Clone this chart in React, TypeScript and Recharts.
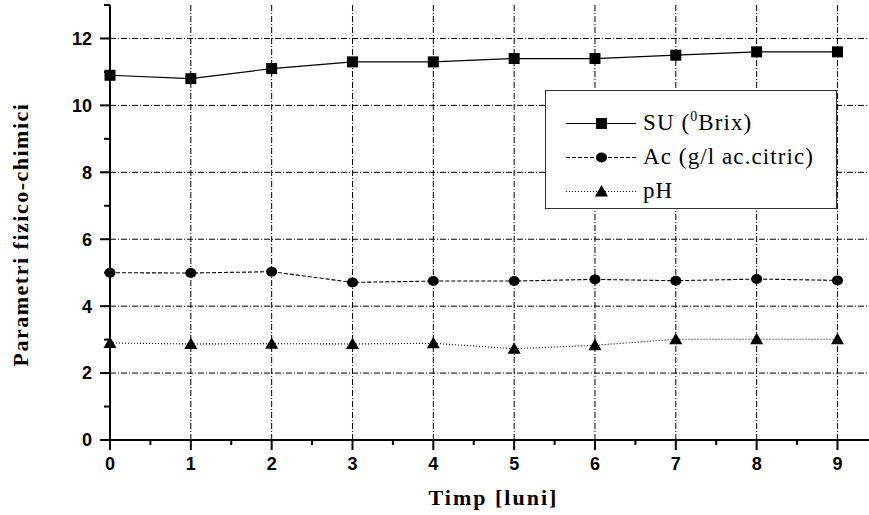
import React from 'react';
import { LineChart, Line, XAxis, YAxis, CartesianGrid, Legend, Label } from 'recharts';

const months = [0, 1, 2, 3, 4, 5, 6, 7, 8, 9];
const suValues = [10.9, 10.8, 11.1, 11.3, 11.3, 11.4, 11.4, 11.5, 11.6, 11.6];
const acValues = [5.0, 4.99, 5.03, 4.71, 4.75, 4.75, 4.8, 4.76, 4.81, 4.77];
const phValues = [2.9, 2.87, 2.88, 2.87, 2.89, 2.73, 2.83, 3.01, 3.01, 3.01];

const xTicks = [0, 0.5, 1, 1.5, 2, 2.5, 3, 3.5, 4, 4.5, 5, 5.5, 6, 6.5, 7, 7.5, 8, 8.5, 9];
const yTicks = [0, 1, 2, 3, 4, 5, 6, 7, 8, 9, 10, 11, 12, 13];
const gridX = [1, 2, 3, 4, 5, 6, 7, 8, 9];
const gridY = [2, 4, 6, 8, 10, 12];

const seriesNames = ['SU (', 'Ac (g/l ac.citric)', 'pH'];

const data = months.map((m, i) => ({ month: m, su: suValues[i], ac: acValues[i], ph: phValues[i] }));

const TICK_FONT = '"Liberation Sans", Arial, sans-serif';
const SERIF = '"Liberation Serif", "Times New Roman", serif';
const TICK_LEN = 10;
const OFFSET_X = 17;
const OFFSET_Y = 18;

const Square = (cx: number, cy: number, key?: any) => (
  <rect key={key} x={cx - 5.5} y={cy - 5.5} width={11} height={11} fill="#000" />
);
const Circle = (cx: number, cy: number, key?: any) => (
  <ellipse key={key} cx={cx} cy={cy} rx={5.5} ry={5} fill="#000" />
);
const Triangle = (cx: number, cy: number, key?: any) => (
  <path key={key} d={`M${cx},${cy - 6.5} L${cx + 6.5},${cy + 5} L${cx - 6.5},${cy + 5} Z`} fill="#000" />
);

const XTick = (props: any) => {
  const { x, y, payload } = props;
  const v = payload.value;
  const major = Number.isInteger(v);
  const axisY = y - OFFSET_X;
  return (
    <g>
      <line x1={x} x2={x} y1={axisY} y2={axisY + (major ? TICK_LEN : 5)} stroke="#000" strokeWidth={2} />
      {major && (
        <text x={x} y={y} dy="0.71em" textAnchor="middle" fontFamily={TICK_FONT} fontWeight="bold" fontSize={18} fill="#000">
          {v}
        </text>
      )}
    </g>
  );
};

const YTick = (props: any) => {
  const { x, y, payload } = props;
  const v = payload.value;
  const major = v % 2 === 0;
  const axisX = x + OFFSET_Y;
  return (
    <g>
      <line x1={axisX - (major ? TICK_LEN : 6)} x2={axisX} y1={y} y2={y} stroke="#000" strokeWidth={2} />
      {major && (
        <text x={x} y={y} dy="0.355em" textAnchor="end" fontFamily={TICK_FONT} fontWeight="bold" fontSize={18} fill="#000">
          {v}
        </text>
      )}
    </g>
  );
};

const renderLegend = () => {
  const rows = [
    { marker: Square, dash: undefined, cy: 32.5 },
    { marker: Circle, dash: '4 2', cy: 66.5 },
    { marker: Triangle, dash: '1 2', cy: 100.5 },
  ];
  return (
    <div style={{ width: 292, height: 119, boxSizing: 'border-box', border: '1.5px solid #333', background: '#fff' }}>
      <svg width={289} height={116} style={{ display: 'block' }}>
        {rows.map((r, i) => (
          <g key={i}>
            <line x1={20} x2={90} y1={r.cy} y2={r.cy} stroke="#000" strokeWidth={1.2} strokeDasharray={r.dash} />
            {r.marker(55.5, r.cy)}
            <text x={97} y={r.cy + 6.5} fontFamily={SERIF} fontSize={23} letterSpacing={1.1} fill="#000">
              {i === 0 ? (
                <>
                  {seriesNames[0]}
                  <tspan fontSize={14} dy={-9}>0</tspan>
                  <tspan dy={9}>Brix)</tspan>
                </>
              ) : (
                seriesNames[i]
              )}
            </text>
          </g>
        ))}
      </svg>
    </div>
  );
};

const YLabel = (props: any) => {
  const vb = props.viewBox || { x: 60, y: 5, width: 50, height: 435 };
  const x = vb.x - 32;
  const y = vb.y + vb.height / 2 + 12;
  return (
    <text x={x} y={y} transform={`rotate(-90, ${x}, ${y})`} textAnchor="middle" fontFamily={SERIF} fontWeight="bold" fontSize={22} letterSpacing={1.5} fill="#000">
      Parametri fizico-chimici
    </text>
  );
};

const XLabel = (props: any) => {
  const vb = props.viewBox || { x: 110, y: 440, width: 759, height: 30 };
  const x = vb.x + vb.width / 2 + 4;
  const y = vb.y + 65;
  return (
    <text x={x} y={y} textAnchor="middle" fontFamily={SERIF} fontWeight="bold" fontSize={22} letterSpacing={2} fill="#000">
      Timp [luni]
    </text>
  );
};

export default function App() {
  return (
    <div style={{ position: 'absolute', left: 0, top: 0, background: '#fff' }}>
      <LineChart width={869} height={515} data={data} margin={{ top: 5, right: 0, left: 60, bottom: 45 }}>
        <CartesianGrid
          stroke="#000"
          strokeWidth={1}
          strokeDasharray="6 2 1 2"
          verticalValues={gridX}
          horizontalValues={gridY}
        />
        <XAxis
          type="number"
          dataKey="month"
          domain={[0, 9.39]}
          ticks={xTicks}
          interval={0}
          height={30}
          tickSize={0}
          tickMargin={OFFSET_X}
          tickLine={false}
          tick={<XTick />}
          axisLine={{ stroke: '#000', strokeWidth: 2 }}
        >
          <Label content={<XLabel />} />
        </XAxis>
        <YAxis
          type="number"
          domain={[0, 13]}
          ticks={yTicks}
          interval={0}
          width={50}
          tickSize={0}
          tickMargin={OFFSET_Y}
          tickLine={false}
          tick={<YTick />}
          axisLine={{ stroke: '#000', strokeWidth: 2 }}
        >
          <Label content={<YLabel />} />
        </YAxis>
        <Legend
          layout="vertical"
          align="center"
          verticalAlign="middle"
          content={renderLegend}
          wrapperStyle={{ left: 545, top: 90, width: 292, height: 119 }}
        />
        <Line
          type="linear"
          dataKey="su"
          stroke="#000"
          strokeWidth={1.2}
          isAnimationActive={false}
          activeDot={false}
          dot={(p: any) => Square(p.cx, p.cy, `su-${p.index}`)}
        />
        <Line
          type="linear"
          dataKey="ac"
          stroke="#000"
          strokeWidth={1.1}
          strokeDasharray="4 2"
          isAnimationActive={false}
          activeDot={false}
          dot={(p: any) => Circle(p.cx, p.cy, `ac-${p.index}`)}
        />
        <Line
          type="linear"
          dataKey="ph"
          stroke="#000"
          strokeWidth={1.1}
          strokeDasharray="1 2"
          isAnimationActive={false}
          activeDot={false}
          dot={(p: any) => Triangle(p.cx, p.cy, `ph-${p.index}`)}
        />
      </LineChart>
    </div>
  );
}
